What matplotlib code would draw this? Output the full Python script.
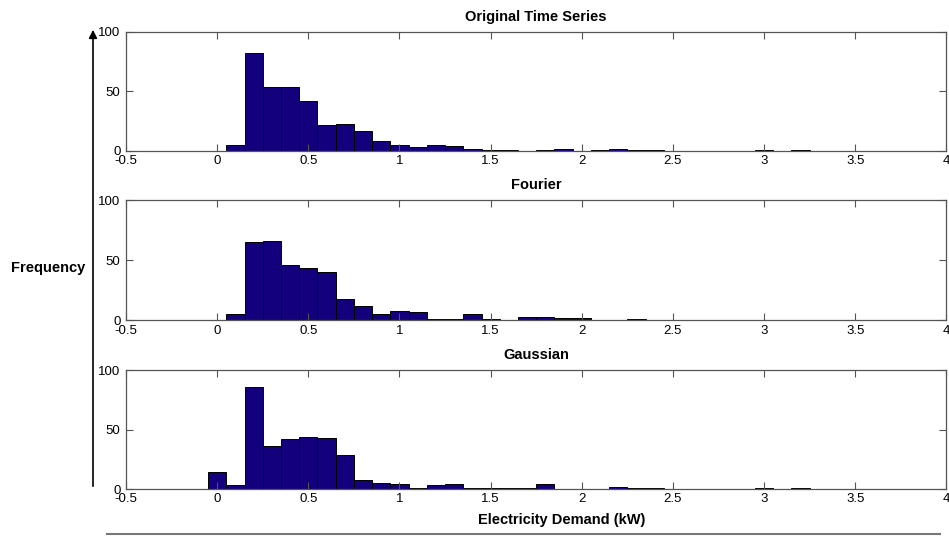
import numpy as np
import matplotlib
matplotlib.use("Agg")
import matplotlib.pyplot as plt

plt.rcParams['font.family'] = ['Liberation Sans', 'DejaVu Sans']

# histogram bin centres (kW) and counts for each series
bins = np.round(np.arange(0, 3.25, 0.1), 1)
original = [0, 5, 82, 54, 54, 42, 22, 23, 17, 8, 5, 3, 5, 4, 2, 1, 1, 0, 1, 2,
            0, 1, 2, 1, 1, 0, 0, 0, 0, 0, 1, 0, 1]
fourier = [0, 5, 65, 66, 46, 44, 40, 18, 12, 5, 8, 7, 1, 1, 5, 1, 0, 3, 3, 2,
           2, 0, 0, 1, 0, 0, 0, 0, 0, 0, 0, 0, 0]
gaussian = [14, 3, 86, 36, 42, 44, 43, 29, 8, 5, 4, 1, 3, 4, 1, 1, 1, 1, 4, 0,
            0, 0, 2, 1, 1, 0, 0, 0, 0, 0, 1, 0, 1]

titles = ["Original Time Series", "Fourier", "Gaussian"]
xticks = [-0.5, 0, 0.5, 1, 1.5, 2, 2.5, 3, 3.5, 4]
xticklabels = ["-0.5", "0", "0.5", "1", "1.5", "2", "2.5", "3", "3.5", "4"]
yticks = [0, 50, 100]

fig = plt.figure(figsize=(9.49, 5.4), dpi=100)

# [left, bottom, width, height] in figure fractions
positions = [
    [0.1328, 0.7204, 0.8645, 0.2204],
    [0.1328, 0.4065, 0.8645, 0.2230],
    [0.1328, 0.0944, 0.8645, 0.2204],
]

for pos, counts, title in zip(positions, [original, fourier, gaussian], titles):
    ax = fig.add_axes(pos)
    ax.bar(bins, counts, width=0.1, color="#12007c", edgecolor="black",
           linewidth=0.7)
    ax.set_xlim(-0.5, 4)
    ax.set_ylim(0, 100)
    ax.set_xticks(xticks)
    ax.set_xticklabels(xticklabels)
    ax.set_yticks(yticks)
    ax.tick_params(direction="in", length=5, width=0.8, color="#555555",
                   top=True, right=True, labelsize=9.5)
    ax.tick_params(axis="x", pad=3)
    ax.tick_params(axis="y", pad=4)
    for s in ax.spines.values():
        s.set_color("#555555")
        s.set_linewidth(0.9)
    ax.set_title(title, fontsize=10.5, fontweight="bold", pad=8)

fig.text(0.5917, 1 - 520 / 540, "Electricity Demand (kW)", ha="center",
         va="center", fontsize=10.5, fontweight="bold")
fig.text(0.012, 1 - 268 / 540, "Frequency", ha="left", va="center",
         fontsize=10.5, fontweight="bold")

# long arrow beside the panels
fig.add_artist(matplotlib.patches.FancyArrowPatch(
    (0.098, 1 - 489 / 540), (0.098, 1 - 27 / 540),
    transform=fig.transFigure, arrowstyle="-|>", mutation_scale=12,
    color="black", linewidth=1.2))

# rule under the axis label
fig.add_artist(matplotlib.lines.Line2D(
    [107 / 949, 940 / 949], [1 - 534 / 540] * 2,
    transform=fig.transFigure, color="#777777", linewidth=1.5))

fig.savefig("out.png", dpi=100)
